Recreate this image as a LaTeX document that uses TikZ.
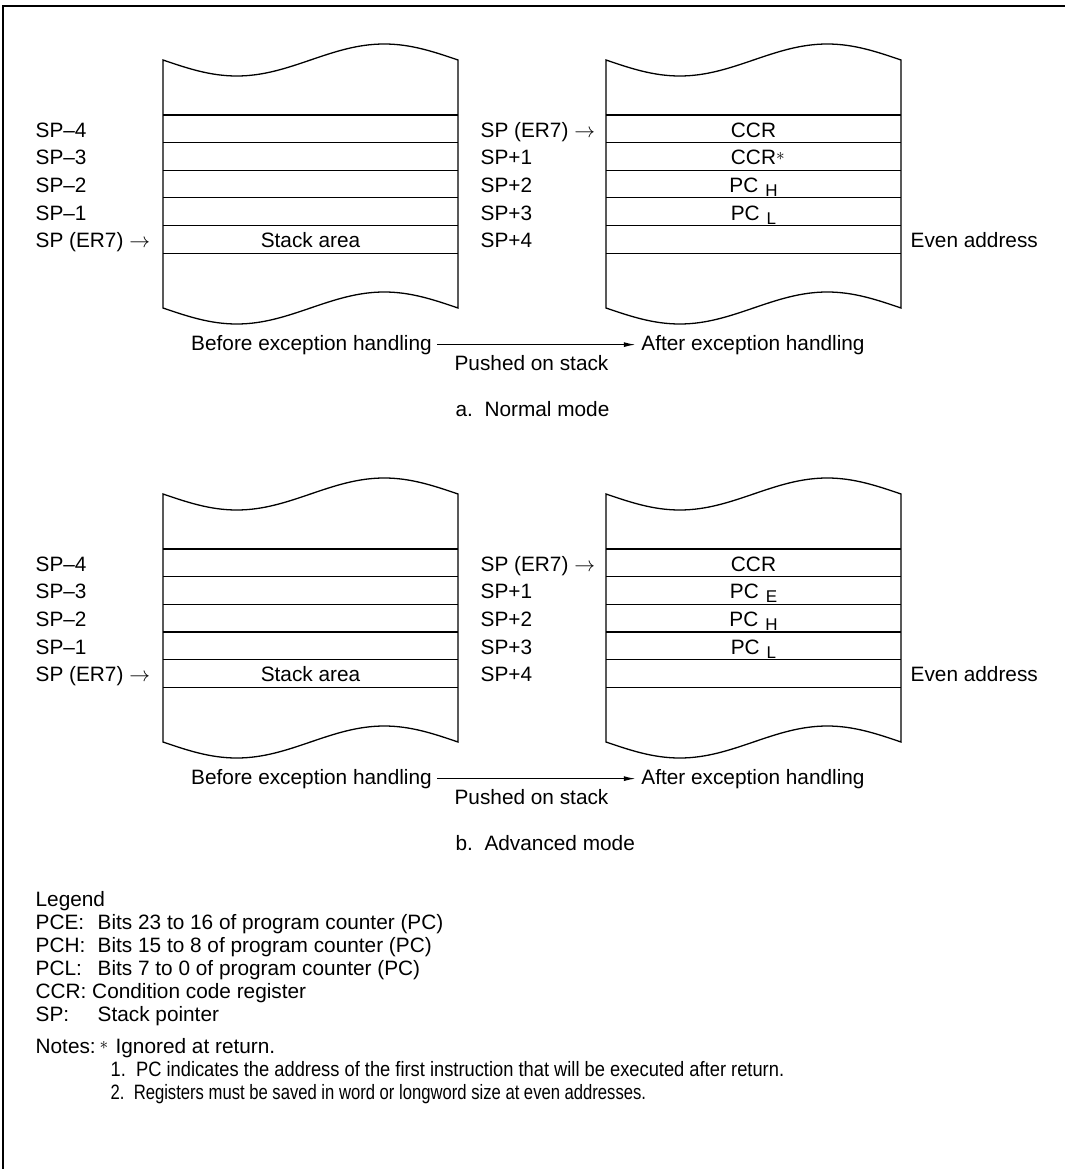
\documentclass[tikz,border=0pt]{standalone}
\usepackage{fontspec}
\setmainfont{Liberation Sans}
\usetikzlibrary{arrows.meta}

\newcommand\lowsub[1]{\hspace{7pt}\raisebox{-4pt}{\fontsize{17}{17}\selectfont #1}}
\newcommand\starmark{\raisebox{4pt}{\fontsize{16}{16}\selectfont$\ast$}}

\begin{document}
\begin{tikzpicture}[x=1pt,y=-1pt,line width=1.3pt,>={Latex[length=12pt,width=5pt]},
  every node/.style={font=\fontsize{20.8}{23}\selectfont,inner sep=0pt},
  lbl/.style={anchor=base west},
  cell/.style={anchor=base},
  capt/.style={anchor=base,inner sep=5pt}]
  \useasboundingbox (0,0) rectangle (1065,1169);
  % --- frame ---
  \draw[line width=2pt] (3,1169) -- (3,6) -- (1065,6);
  % --- a. normal mode, b. advanced mode ---
  \foreach \m/\dy/\second/\mode in {a/0/{CCR\rlap{\starmark}}/{a.\ \ Normal mode},
                                  b/434/{PC\lowsub{E}}/{b.\ \ Advanced mode}}{
    \begin{scope}[shift={(0,\dy)}]
      % stacks, before and after
      \foreach \x in {163,606}{
        \draw (\x,60) sin ++(73.75,16) cos ++(73.75,-16) sin ++(73.75,-16) cos ++(73.75,16)
          -- ++(0,248) sin ++(-73.75,-16) cos ++(-73.75,16) sin ++(-73.75,16) cos ++(-73.75,-16)
          -- cycle;
        \foreach \k in {0,...,5}
          \draw[line width=1.1pt] (\x,{115+27.65*\k}) -- ({\x+295},{115+27.65*\k});
      }
      % addresses
      \foreach \t [count=\k from 0] in {SP–4,SP–3,SP–2,SP–1,SP (ER7) $\rightarrow$}
        \node[lbl] (l\m\k) at (35,{137.3+27.65*\k}) {\t};
      \foreach \t [count=\k from 0] in {SP (ER7) $\rightarrow$,SP+1,SP+2,SP+3,SP+4}
        \node[lbl] (r\m\k) at (480,{137.3+27.65*\k}) {\t};
      % contents
      \foreach \t [count=\k from 0] in {CCR,\second,PC\lowsub{H},PC\lowsub{L}}
        \node[cell] (c\m\k) at (753.5,{137.3+27.65*\k}) {\t};
      \node[cell] (area\m) at (310.5,{137.3+27.65*4}) {Stack area};
      \node[lbl] (even\m) at (910,{137.3+27.65*4}) {Even address};
      % captions
      \node[capt] (before\m) at (311.5,350) {Before exception handling};
      \node[capt] (after\m) at (753,350) {After exception handling};
      \draw[->] (before\m) -- (after\m);
      \node[cell] (push\m) at (531.5,370) {Pushed on stack};
      \node[lbl] (mode\m) at (455,416.7) {\mode};
    \end{scope}
  }
  % --- legend ---
  \node[lbl] (legend) at (35,906) {Legend};
  \foreach \ab/\txt [count=\i] in {PCE:/Bits 23 to 16 of program counter (PC),
                                  PCH:/Bits 15 to 8 of program counter (PC),
                                  PCL:/Bits 7 to 0 of program counter (PC)}
    \node[lbl] (leg\i) at (35,{906+23*\i}) {\makebox[62pt][l]{\ab}\txt};
  \node[lbl] (leg4) at (35,998) {CCR: Condition code register};
  \node[lbl] (leg5) at (35,1021) {\makebox[62pt][l]{SP:}Stack pointer};
  % notes
  \node[lbl] (notes) at (35,1053) {\makebox[64pt][l]{Notes:}\makebox[16pt][l]{\starmark}Ignored at return.};
  \node[lbl] (note1) at (110,1076) {\scalebox{0.88}[1]{1.\ \ PC indicates the address of the first instruction that will be executed after return.}};
  \node[lbl] (note2) at (110,1099) {\scalebox{0.8}[1]{2.\ \ Registers must be saved in word or longword size at even addresses.}};
\end{tikzpicture}
\end{document}
